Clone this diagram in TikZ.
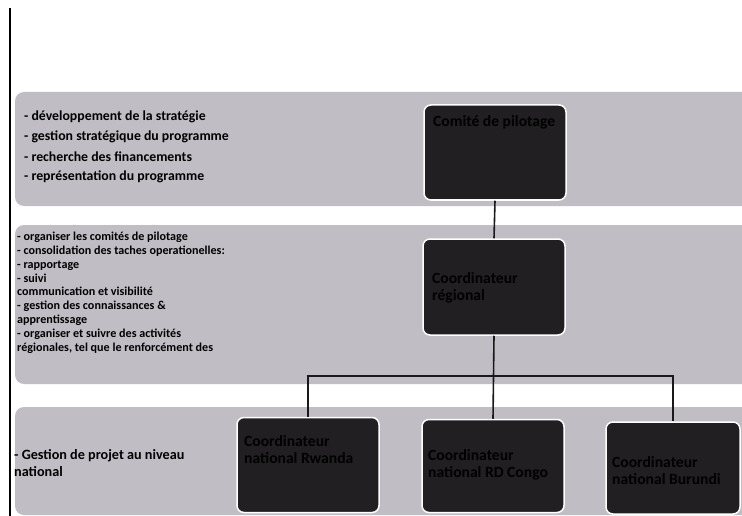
\documentclass[tikz,border=0pt]{standalone}
\usepackage{fontspec}
\setmainfont{Carlito}
\definecolor{bandc}{RGB}{193,189,197}
\definecolor{boxc}{RGB}{34,31,34}
\begin{document}
\begin{tikzpicture}[x=1pt,y=-1pt,
  band/.style={fill=bandc, rounded corners=9pt},
  orgbox/.style={draw=white, line width=1.5pt, fill=boxc, rounded corners=7pt,
    minimum width=142pt, minimum height=95pt, inner sep=0pt},
  boxtxt/.style={anchor=base west, align=left, inner sep=0pt, text=black,
    font=\bfseries\fontsize{15.6}{17}\selectfont},
  bandtxt/.style={anchor=base west, align=left, inner sep=0pt, text=black},
  conn/.style={line width=1.6pt, draw=black!90}]
\useasboundingbox (0,0) rectangle (742,516);
\clip (0,0) rectangle (742,516);
\fill[white] (0,0) rectangle (742,516);
\draw[line width=1.2pt] (10,8) -- (10,516);
\fill[band] (15,92) rectangle (780,206);
\fill[band] (15,225) rectangle (780,384);
\fill[band] (15,407) rectangle (780,515);
% band texts (base anchor = baseline of the last line)
\node[bandtxt, font=\bfseries\fontsize{13.8}{20}\selectfont] (t1) at (24,181)
 {- développement de la stratégie\\- gestion stratégique du programme\\- recherche des financements\\- représentation du programme};
\node[bandtxt, font=\bfseries\fontsize{12.1}{13.9}\selectfont] (t2) at (17,351.5)
 {- organiser les comités de pilotage\\- consolidation des taches operationelles:\\- rapportage\\- suivi\\communication et visibilité\\- gestion des connaissances \&\\apprentissage\\- organiser et suivre des activités\\régionales, tel que le renforcément des};
\node[bandtxt, font=\bfseries\fontsize{14.2}{17}\selectfont] (t3) at (14,476)
 {- Gestion de projet au niveau\\national};
% boxes
\node[orgbox] (cp) at (495,152.5) {};
\node[orgbox, minimum height=96pt] (cr) at (494,287) {};
\node[orgbox] (rw) at (308,465) {};
\node[orgbox, minimum height=93pt] (rd) at (493,466) {};
\node[orgbox, minimum width=134pt, minimum height=92pt] (bu) at (673,468) {};
\node[boxtxt] (cpt) at (433,127) {Comité de pilotage};
\node[boxtxt] (crt) at (432,300) {Coordinateur\\régional};
\node[boxtxt] (rwt) at (244,463) {Coordinateur\\national Rwanda};
\node[boxtxt] (rdt) at (428,477) {Coordinateur\\national RD Congo};
\node[boxtxt] (but) at (612,484) {Coordinateur\\national Burundi};
% connectors
\coordinate (bus) at (493,376);
\draw[conn] (cp.south) -- (cr.north);
\draw[conn] (cr.south) -- (rd.north);
\draw[conn] (rw.north) |- (bus) -| (bu.north);
\end{tikzpicture}
\end{document}
